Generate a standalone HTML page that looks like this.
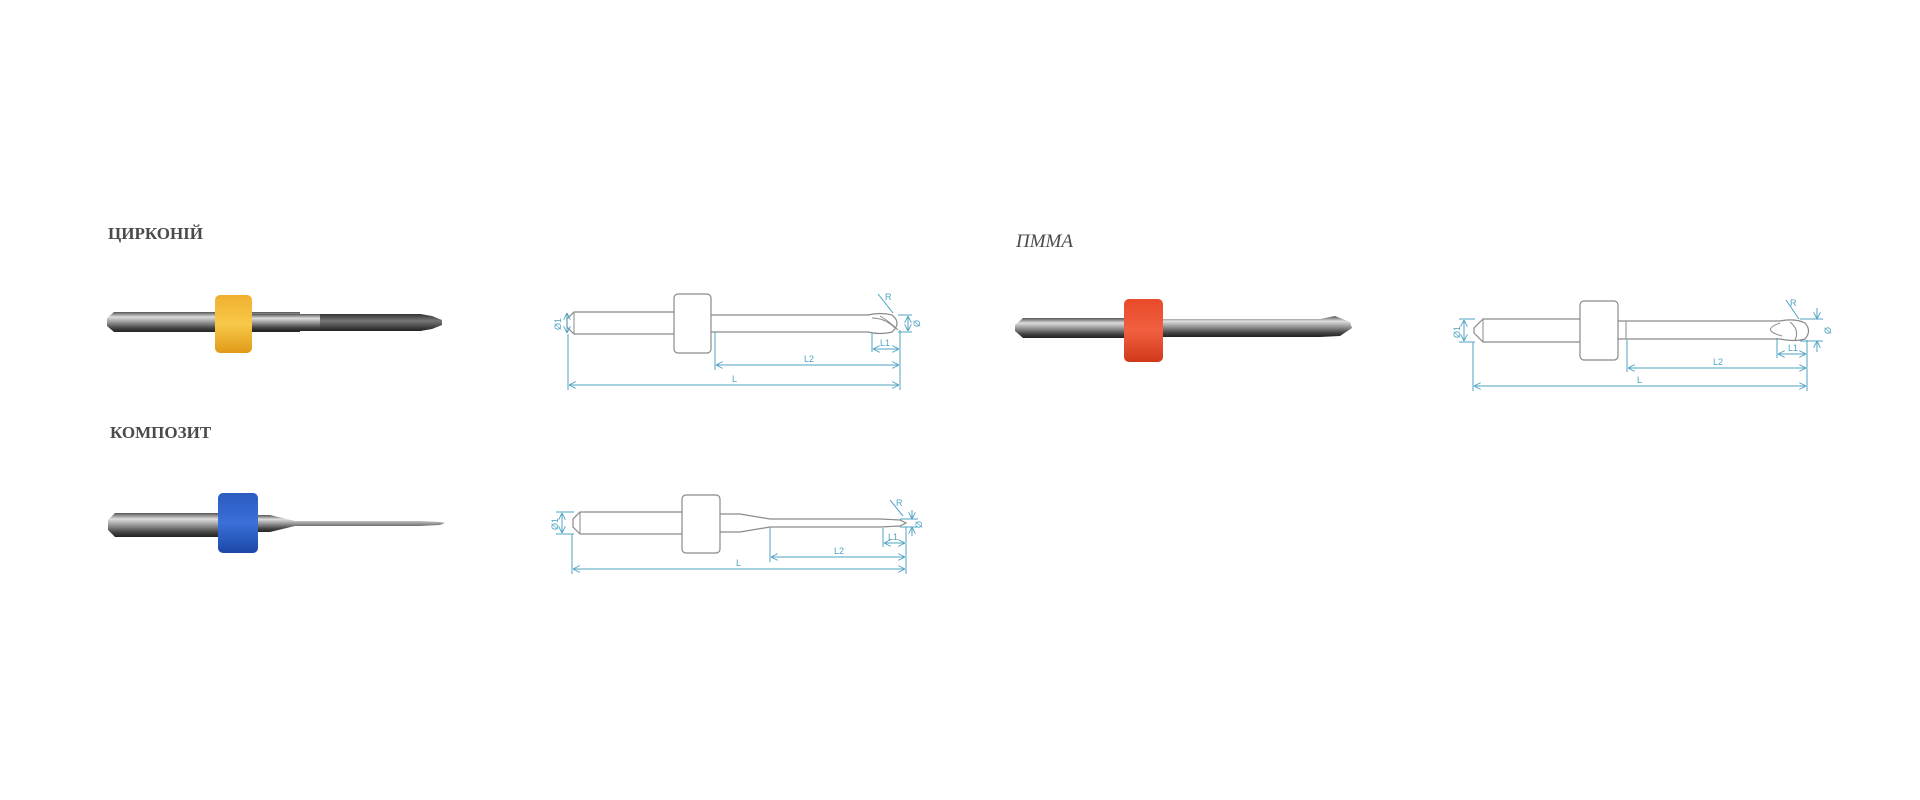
<!DOCTYPE html>
<html><head><meta charset="utf-8"><style>
html,body{margin:0;padding:0;background:#fff;width:1920px;height:800px;overflow:hidden}
svg{display:block}
.t{font-family:"Liberation Serif",serif;fill:#4a4a4a;font-size:17px;font-weight:bold}
.o{fill:#fff;stroke:#8a8a8a;stroke-width:1.2}
.d{stroke:#4fa3c2;stroke-width:1;fill:none}
.dt{font-family:"Liberation Sans",sans-serif;font-size:9px;fill:#4fa3c2}
</style></head><body>
<svg width="1920" height="800" viewBox="0 0 1920 800">
<defs>
<linearGradient id="steel" x1="0" y1="0" x2="0" y2="1">
<stop offset="0" stop-color="#555"/><stop offset=".25" stop-color="#ddd"/><stop offset=".5" stop-color="#999"/><stop offset=".8" stop-color="#444"/><stop offset="1" stop-color="#222"/></linearGradient>
<linearGradient id="dark" x1="0" y1="0" x2="0" y2="1">
<stop offset="0" stop-color="#333"/><stop offset=".4" stop-color="#777"/><stop offset="1" stop-color="#222"/></linearGradient>
<linearGradient id="yel" x1="0" y1="0" x2="0" y2="1"><stop offset="0" stop-color="#f0b030"/><stop offset=".5" stop-color="#f8c848"/><stop offset="1" stop-color="#e09a18"/></linearGradient>
<linearGradient id="red" x1="0" y1="0" x2="0" y2="1"><stop offset="0" stop-color="#e84a2a"/><stop offset=".5" stop-color="#f06040"/><stop offset="1" stop-color="#d03818"/></linearGradient>
<linearGradient id="blu" x1="0" y1="0" x2="0" y2="1"><stop offset="0" stop-color="#2a5cc0"/><stop offset=".5" stop-color="#3a70d8"/><stop offset="1" stop-color="#1c48a8"/></linearGradient>
<marker id="a" viewBox="0 0 10 10" refX="10" refY="5" markerWidth="7" markerHeight="7" orient="auto-start-reverse"><path d="M0,0 L10,5 L0,10" fill="none" stroke="#4fa3c2" stroke-width="1.3"/></marker>
</defs>

<text class="t" x="108" y="239">ЦИРКОНІЙ</text>
<text class="t" x="110" y="438">КОМПОЗИТ</text>
<text class="t" x="1016" y="247" style="font-style:italic;font-size:19px;font-weight:normal">ПММА</text>

<!-- yellow drill -->
<path d="M114,312 L300,312 L300,332 L114,332 L107,326 L107,318 Z" fill="url(#steel)"/>
<path d="M250,314 L420,314 L430,316 L442,320 L442,325 L430,329 L420,331 L250,331 Z" fill="url(#steel)"/>
<path d="M320,314 L420,314 L432,316 L442,320 L442,325 L432,329 L420,331 L320,331 Z" fill="url(#dark)"/>
<rect x="215" y="295" width="37" height="58" rx="5" fill="url(#yel)"/>

<!-- red drill -->
<path d="M1023,318 L1130,318 L1130,338 L1023,338 L1015,331 L1015,325 Z" fill="url(#steel)"/>
<path d="M1160,319 L1320,319 L1335,316 L1350,322 L1352,328 L1340,336 L1320,337 L1160,337 Z" fill="url(#steel)"/>
<rect x="1124" y="299" width="39" height="63" rx="5" fill="url(#red)"/>

<!-- blue drill -->
<path d="M115,513 L240,513 L240,537 L115,537 L108,530 L108,520 Z" fill="url(#steel)"/>
<path d="M255,515 L270,515 L295,521 L420,521 L440,522 L445,523 L440,525 L420,526 L295,526 L270,532 L255,532 Z" fill="url(#steel)"/>
<rect x="218" y="493" width="40" height="60" rx="5" fill="url(#blu)"/>

<!-- drawing 1 -->
<g>
<path class="o" d="M574,312 L676,312 L676,334 L574,334 L567,327 L567,319 Z"/>
<line x1="574" y1="312" x2="574" y2="334" stroke="#8a8a8a"/>
<path class="o" d="M709,315 L868,315 Q880,312 892,315 Q902,323 892,332 Q880,335 868,332 L709,332 Z"/>
<path d="M872,318 Q885,318 895,328 M880,316 Q890,322 898,330" stroke="#8a8a8a" fill="none"/>
<rect class="o" x="674" y="294" width="37" height="59" rx="4"/>
<line class="d" x1="568" y1="334" x2="568" y2="390"/>
<line class="d" x1="900" y1="330" x2="900" y2="390"/>
<line class="d" x1="715" y1="332" x2="715" y2="370"/>
<line class="d" x1="872" y1="333" x2="872" y2="352"/>
<line class="d" x1="569" y1="385" x2="899" y2="385" marker-start="url(#a)" marker-end="url(#a)"/>
<line class="d" x1="716" y1="365" x2="899" y2="365" marker-start="url(#a)" marker-end="url(#a)"/>
<line class="d" x1="873" y1="349" x2="899" y2="349" marker-start="url(#a)" marker-end="url(#a)"/>
<line class="d" x1="567" y1="313" x2="567" y2="333" marker-start="url(#a)" marker-end="url(#a)"/>
<line class="d" x1="908" y1="316" x2="908" y2="331" marker-start="url(#a)" marker-end="url(#a)"/>
<line class="d" x1="898" y1="315" x2="912" y2="315"/><line class="d" x1="898" y1="332" x2="912" y2="332"/>
<line class="d" x1="878" y1="294" x2="893" y2="313"/>
<text class="dt" x="885" y="300">R</text>
<text class="dt" x="804" y="362">L2</text>
<text class="dt" x="732" y="382">L</text>
<text class="dt" x="880" y="346">L1</text>
<text class="dt" transform="translate(561,330) rotate(-90)">Ø1</text>
<text class="dt" transform="translate(920,327) rotate(-90)">Ø</text>
</g>

<!-- drawing 2 -->
<g>
<path class="o" d="M580,512 L684,512 L684,534 L580,534 L573,527 L573,519 Z"/>
<line x1="580" y1="512" x2="580" y2="534" stroke="#8a8a8a"/>
<path class="o" d="M718,514 L740,514 L770,519 L880,519 L900,520 L906,523 L900,526 L880,527 L770,527 L740,532 L718,532 Z"/>
<rect class="o" x="682" y="495" width="38" height="58" rx="4"/>
<line class="d" x1="572" y1="534" x2="572" y2="574"/>
<line class="d" x1="906" y1="527" x2="906" y2="574"/>
<line class="d" x1="770" y1="527" x2="770" y2="562"/>
<line class="d" x1="883" y1="528" x2="883" y2="547"/>
<line class="d" x1="573" y1="569" x2="905" y2="569" marker-start="url(#a)" marker-end="url(#a)"/>
<line class="d" x1="771" y1="557" x2="905" y2="557" marker-start="url(#a)" marker-end="url(#a)"/>
<line class="d" x1="884" y1="543" x2="905" y2="543" marker-start="url(#a)" marker-end="url(#a)"/>
<line class="d" x1="562" y1="513" x2="562" y2="533" marker-start="url(#a)" marker-end="url(#a)"/>
<line class="d" x1="556" y1="512" x2="574" y2="512"/><line class="d" x1="556" y1="534" x2="574" y2="534"/>
<line class="d" x1="912" y1="510" x2="912" y2="519" marker-end="url(#a)"/>
<line class="d" x1="912" y1="536" x2="912" y2="527" marker-end="url(#a)"/>
<line class="d" x1="900" y1="519" x2="918" y2="519"/><line class="d" x1="900" y1="527" x2="918" y2="527"/>
<line class="d" x1="890" y1="500" x2="903" y2="516"/>
<text class="dt" x="896" y="506">R</text>
<text class="dt" x="834" y="554">L2</text>
<text class="dt" x="736" y="566">L</text>
<text class="dt" x="888" y="540">L1</text>
<text class="dt" transform="translate(558,530) rotate(-90)">Ø1</text>
<text class="dt" transform="translate(922,528) rotate(-90)">Ø</text>
</g>

<!-- drawing 3 -->
<g>
<path class="o" d="M1483,319 L1582,319 L1582,342 L1483,342 L1474,333 L1474,328 Z"/>
<line x1="1483" y1="319" x2="1483" y2="342" stroke="#8a8a8a"/>
<path class="o" d="M1616,321 L1780,321 Q1795,318 1805,323 Q1812,331 1805,339 Q1795,342 1780,339 L1616,339 Z"/>
<path d="M1780,323 Q1760,330 1782,336 M1790,322 Q1800,330 1795,340" stroke="#8a8a8a" fill="none"/>
<line x1="1626" y1="321" x2="1626" y2="339" stroke="#8a8a8a"/>
<rect class="o" x="1580" y="301" width="38" height="59" rx="4"/>
<line class="d" x1="1473" y1="342" x2="1473" y2="391"/>
<line class="d" x1="1807" y1="340" x2="1807" y2="391"/>
<line class="d" x1="1627" y1="340" x2="1627" y2="372"/>
<line class="d" x1="1777" y1="338" x2="1777" y2="358"/>
<line class="d" x1="1474" y1="386" x2="1806" y2="386" marker-start="url(#a)" marker-end="url(#a)"/>
<line class="d" x1="1628" y1="368" x2="1806" y2="368" marker-start="url(#a)" marker-end="url(#a)"/>
<line class="d" x1="1778" y1="354" x2="1806" y2="354" marker-start="url(#a)" marker-end="url(#a)"/>
<line class="d" x1="1464" y1="320" x2="1464" y2="341" marker-start="url(#a)" marker-end="url(#a)"/>
<line class="d" x1="1459" y1="319" x2="1475" y2="319"/><line class="d" x1="1459" y1="342" x2="1475" y2="342"/>
<line class="d" x1="1817" y1="308" x2="1817" y2="319" marker-end="url(#a)"/>
<line class="d" x1="1817" y1="352" x2="1817" y2="341" marker-end="url(#a)"/>
<line class="d" x1="1800" y1="319" x2="1823" y2="319"/><line class="d" x1="1800" y1="341" x2="1823" y2="341"/>
<line class="d" x1="1786" y1="300" x2="1799" y2="319"/>
<text class="dt" x="1790" y="306">R</text>
<text class="dt" x="1713" y="365">L2</text>
<text class="dt" x="1637" y="383">L</text>
<text class="dt" x="1788" y="351">L1</text>
<text class="dt" transform="translate(1460,338) rotate(-90)">Ø1</text>
<text class="dt" transform="translate(1831,334) rotate(-90)">Ø</text>
</g>
</svg>
</body></html>
